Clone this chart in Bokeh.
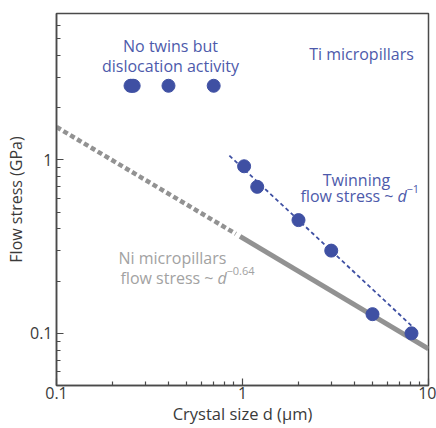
import numpy as np
from bokeh.plotting import figure
from bokeh.models import Label, FixedTicker
from bokeh.embed import file_html
from bokeh.resources import INLINE

# ---------------- data ----------------
x_ticks = [0.1, 1, 10]
x_tick_labels = ["0.1", "1", "10"]
y_ticks = [0.1, 1]
y_tick_labels = ["0.1", "1"]

# Ti micropillars: no twins but dislocation activity
disloc_d = [0.25, 0.255, 0.26, 0.40, 0.70]
disloc_stress = [2.68, 2.68, 2.68, 2.68, 2.68]

# Ti micropillars: twinning
twin_d = [1.02, 1.2, 2.0, 3.0, 5.0, 8.1]
twin_stress = [0.92, 0.70, 0.45, 0.30, 0.129, 0.10]

# Twinning fit ~ d^-1
twin_fit_d = [0.85, 8.3]
twin_fit_stress = [1.06, 0.108]

# Ni micropillars ~ d^-0.64
ni_dash_d = [0.1, 0.92]
ni_dash_stress = [1.55, 0.375]
ni_solid_d = [0.97, 10]
ni_solid_stress = [0.362, 0.0813]

BLUE = "#3f50a3"
BLUE_TXT = "#4d5aab"
GREY = "#929292"
GREY_TXT = "#a2a2a2"
AX = "#4a4a4a"
TXT = "#3a3a3a"
FONT = "Open Sans"

# ---------------- figure ----------------
p = figure(width=436, height=428, x_axis_type="log", y_axis_type="log",
           x_range=(0.1, 10), y_range=(0.05, 7.0),
           output_backend="svg", toolbar_location=None,
           min_border_left=56, min_border_right=8, min_border_top=13, min_border_bottom=43)
p.background_fill_color = "white"
p.border_fill_color = "white"
p.grid.visible = False
p.outline_line_color = AX
p.outline_line_width = 1.5

minor_x = [m * 10.0 ** e for e in (-1, 0) for m in range(2, 10)]
minor_y = [m * 10.0 ** e for e in (-2, -1, 0) for m in range(2, 10)]
p.xaxis.ticker = FixedTicker(ticks=x_ticks, minor_ticks=minor_x)
p.yaxis.ticker = FixedTicker(ticks=y_ticks, minor_ticks=minor_y)
p.xaxis.major_label_overrides = dict(zip(x_ticks, x_tick_labels))
p.yaxis.major_label_overrides = dict(zip(y_ticks, y_tick_labels))

for ax in (p.xaxis, p.yaxis):
    ax.axis_line_color = AX
    ax.axis_line_width = 1.5
    ax.major_tick_in = 7
    ax.major_tick_out = 0
    ax.minor_tick_in = 4
    ax.minor_tick_out = 0
    ax.major_tick_line_color = AX
    ax.minor_tick_line_color = AX
    ax.major_tick_line_width = 1.2
    ax.minor_tick_line_width = 1.2
    ax.major_label_text_font = FONT
    ax.major_label_text_font_size = "16px"
    ax.major_label_text_color = TXT
    ax.axis_label_text_font = FONT
    ax.axis_label_text_font_style = "normal"
    ax.axis_label_text_color = TXT
    ax.axis_label_standoff = 0
p.xaxis.axis_label_text_font_size = "16.5px"
p.yaxis.axis_label_text_font_size = "16px"
p.xaxis.major_label_standoff = 1
p.yaxis.major_label_standoff = 4

p.xaxis.axis_label = "Crystal size d (\u03bcm)"
p.yaxis.axis_label = "Flow stress (GPa)"

# ---------------- glyphs ----------------
p.line(ni_dash_d, ni_dash_stress, line_color=GREY, line_width=4.5, line_dash="5 3")
p.line(ni_solid_d, ni_solid_stress, line_color=GREY, line_width=5)
p.line(twin_fit_d, twin_fit_stress, line_color=BLUE, line_width=1.8, line_dash="4 3")
p.scatter(disloc_d, disloc_stress, size=13, color=BLUE)
p.scatter(twin_d, twin_stress, size=13, color=BLUE)

# ---------------- text placement helpers (page px -> data) ----------------
def X(px):
    return 0.1 * 10 ** ((px - 56) / 186.0)

def Y(py):
    return 10 ** ((160 - py) / 173.3)

def lab(x, y, text, color, align="left", size="16px", style="normal",
        baseline="alphabetic", xo=0, yo=0):
    p.add_layout(Label(x=x, y=y, text=text, text_color=color, text_align=align,
                       text_font=FONT, text_font_size=size, text_font_style=style,
                       text_baseline=baseline, x_offset=xo, y_offset=yo))

lab(X(170), Y(46), "No twins but", BLUE_TXT, align="center")
lab(X(170), Y(66), "dislocation activity", BLUE_TXT, align="center")
lab(X(361), Y(54), "Ti micropillars", BLUE_TXT, align="center")

lab(X(356), Y(180), "Twinning", BLUE_TXT, align="center")
lab(X(397), Y(196), "flow stress ~", BLUE_TXT, align="right", xo=-4)
lab(X(397), Y(196), "d", BLUE_TXT, style="italic")
lab(X(397), Y(196), "\u22121", BLUE_TXT, size="11px", xo=9, yo=7)

lab(X(118), Y(258), "Ni micropillars", GREY_TXT)
lab(X(217), Y(278), "flow stress ~", GREY_TXT, align="right", xo=-4)
lab(X(217), Y(278), "d", GREY_TXT, style="italic")
lab(X(217), Y(278), "\u22120.64", GREY_TXT, size="11px", xo=9, yo=7)

open("out.html", "w").write(file_html(p, INLINE))
